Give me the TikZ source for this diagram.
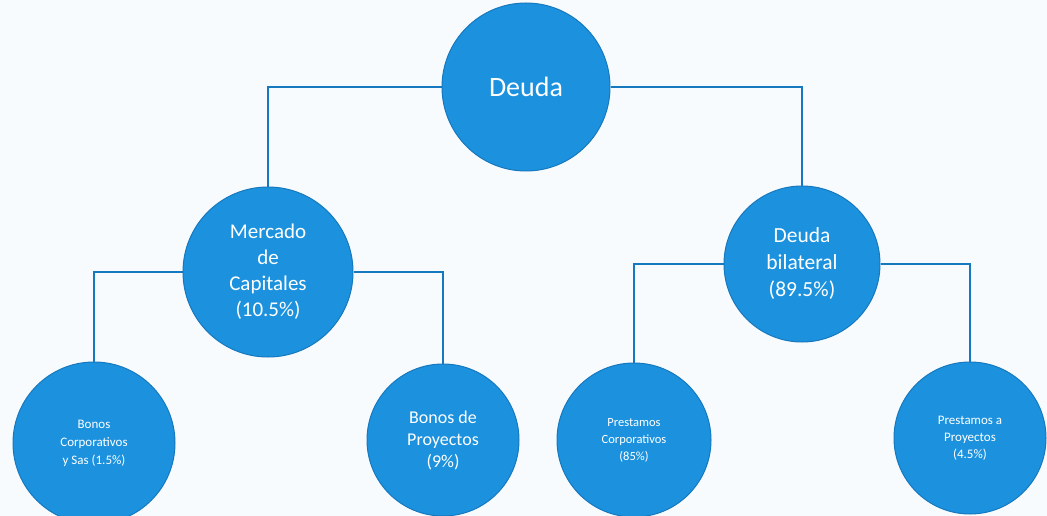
\documentclass[tikz,border=0pt]{standalone}
\usepackage{fontspec}
\setmainfont{Carlito}
\definecolor{nodeblue}{RGB}{28,146,222}
\definecolor{edgeblue}{RGB}{22,120,190}
\definecolor{bg}{RGB}{248,251,253}
\pgfdeclarelayer{bgl}
\pgfsetlayers{bgl,main}
\begin{document}
\begin{tikzpicture}[x=1pt,y=-1pt,
  bub/.style={circle,fill=nodeblue,draw=edgeblue,line width=1pt,text=white,align=center,inner sep=0pt},
  conn/.style={draw=edgeblue,line width=2.6pt}]
\begin{pgfonlayer}{bgl}
\fill[bg] (0,0) rectangle (1047,516);
\end{pgfonlayer}
\useasboundingbox (0,0) rectangle (1047,516);
% nodes
\node[bub,minimum size=168pt,font=\fontsize{28}{32}\selectfont] (deuda) at (526,87) {Deuda};
\node[bub,minimum size=170pt,font=\fontsize{21}{26}\selectfont] (merc) at (268,272) {Mercado\\de\\Capitales\\(10.5\%)};
\node[bub,minimum size=156pt,font=\fontsize{21.5}{27}\selectfont] (bil) at (802,264) {Deuda\\bilateral\\(89.5\%)};
\node[bub,minimum size=162pt,font=\fontsize{13}{18}\selectfont] (bc) at (94,443) {Bonos\\Corporativos\\y Sas (1.5\%)};
\node[bub,minimum size=152pt,font=\fontsize{18}{22}\selectfont] (bp) at (443,440) {Bonos de\\Proyectos\\(9\%)};
\node[bub,minimum size=154pt,font=\fontsize{12.5}{17}\selectfont] (pc) at (634,440) {Prestamos\\Corporativos\\(85\%)};
\node[bub,minimum size=152pt,font=\fontsize{13}{17}\selectfont] (pp) at (970,438) {Prestamos a\\Proyectos\\(4.5\%)};
% connectors behind nodes
\begin{pgfonlayer}{bgl}
\draw[conn] (deuda) -| (merc);
\draw[conn] (deuda) -| (bil);
\draw[conn] (merc) -| (bc);
\draw[conn] (merc) -| (bp);
\draw[conn] (bil) -| (pc);
\draw[conn] (bil) -| (pp);
\end{pgfonlayer}
\end{tikzpicture}
\end{document}
